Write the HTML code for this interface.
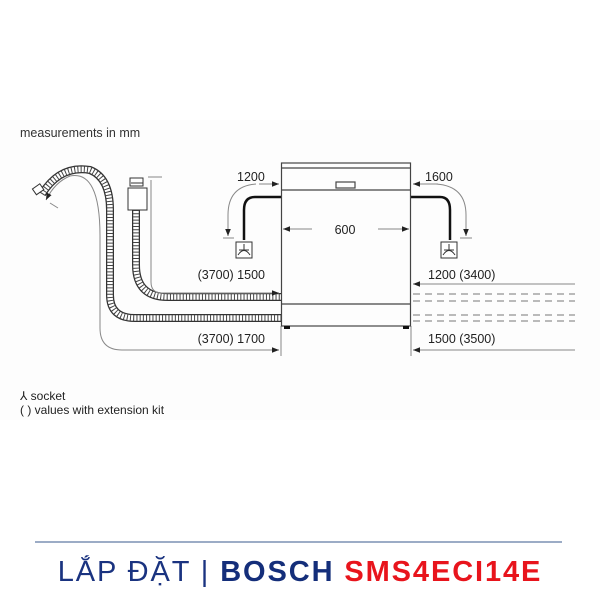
<!DOCTYPE html>
<html><head><meta charset="utf-8"><style>
html,body{margin:0;padding:0;background:#fff;}
svg{display:block}
</style></head><body>
<svg width="600" height="600" viewBox="0 0 600 600" xmlns="http://www.w3.org/2000/svg" font-family="Liberation Sans, Arial, sans-serif">
<defs>
<marker id="a" viewBox="0 0 10 10" refX="10" refY="5" markerWidth="7" markerHeight="7" orient="auto"><path d="M0,1 L10,5 L0,9z" fill="#222"/></marker>
</defs>
<rect x="0" y="120" width="600" height="300" fill="#fdfdfd"/>
<text x="20" y="137" font-size="12.5" fill="#333">measurements in mm</text>

<g fill="none">
<path id="h1" d="M136,210 L136,265 Q136,297 168,297 L281,297"/>
<path id="h2" d="M42,194 Q60,165 90,170 Q110,178 110,210 L110,295 Q110,318 135,318 L281,318"/>
</g>
<g fill="none" stroke="#333">
<use href="#h1" stroke-width="8"/><use href="#h2" stroke-width="8"/>
</g>
<g fill="none" stroke="#fff">
<use href="#h1" stroke-width="5.5"/><use href="#h2" stroke-width="5.5"/>
</g>
<g fill="none" stroke="#444" stroke-dasharray="1 2.2">
<use href="#h1" stroke-width="6"/><use href="#h2" stroke-width="6"/>
</g>
<rect x="34" y="186" width="9" height="7" fill="#fff" stroke="#333" transform="rotate(-35 38 190)"/>
<rect x="128" y="188" width="19" height="22" fill="#fff" stroke="#333"/>
<rect x="130" y="178" width="13" height="8" fill="#fff" stroke="#333"/>
<line x1="131" y1="183" x2="143" y2="183" stroke="#333"/>

<g fill="none" stroke="#888" stroke-width="1">
<path d="M151,180 L151,282 Q151,293 162,293 L279,293" marker-end="url(#a)"/>
<line x1="148" y1="177" x2="162" y2="177"/>
<path d="M100,236 L100,328 Q100,350 122,350 L279,350" marker-end="url(#a)"/>
<path d="M100,236 Q100,170 70,176 Q55,182 46,200" marker-end="url(#a)"/>
<line x1="50" y1="203" x2="58" y2="208"/>
<path d="M256,184 Q228,186 228,215 L228,236" marker-end="url(#a)"/>
<line x1="259" y1="184" x2="279" y2="184" marker-end="url(#a)"/>
<line x1="223" y1="238" x2="234" y2="238"/>
<line x1="438" y1="184" x2="413" y2="184" marker-end="url(#a)"/>
<path d="M436,184 Q466,186 466,215 L466,236" marker-end="url(#a)"/>
<line x1="460" y1="238" x2="472" y2="238"/>
<line x1="281" y1="326" x2="281" y2="356"/>
<line x1="411" y1="326" x2="411" y2="356"/>
<line x1="575" y1="284" x2="413" y2="284" marker-end="url(#a)"/>
<line x1="575" y1="350" x2="413" y2="350" marker-end="url(#a)"/>
<line x1="312" y1="229" x2="283" y2="229" marker-end="url(#a)"/>
<line x1="378" y1="229" x2="409" y2="229" marker-end="url(#a)"/>
</g>
<g stroke="#777" stroke-dasharray="7 5">
<line x1="413" y1="294" x2="575" y2="294"/><line x1="413" y1="301" x2="575" y2="301"/>
<line x1="413" y1="315" x2="575" y2="315"/><line x1="413" y1="321" x2="575" y2="321"/>
</g>

<path d="M281,197 L255,197 Q244,197 244,210 L244,240" fill="none" stroke="#111" stroke-width="2.5"/>
<path d="M411,197 L440,197 Q450,197 450,210 L450,240" fill="none" stroke="#111" stroke-width="2.5"/>
<g fill="#fff" stroke="#333">
<rect x="236" y="242" width="16" height="16"/>
<rect x="441" y="242" width="16" height="16"/>
</g>
<g fill="none" stroke="#333">
<path d="M244,244 L244,250 M238,255 Q244,246 250,255 M239,250 L249,250"/>
<path d="M449,244 L449,250 M443,255 Q449,246 455,255 M444,250 L454,250"/>
</g>

<g fill="none" stroke="#444" stroke-width="1.2">
<rect x="281.5" y="163" width="129" height="163"/>
<line x1="281" y1="168" x2="411" y2="168"/>
<line x1="281" y1="190" x2="411" y2="190"/>
<line x1="281" y1="304" x2="411" y2="304"/>
<rect x="336" y="182" width="19" height="6"/>
</g>
<rect x="284" y="326" width="6" height="3" fill="#111"/>
<rect x="403" y="326" width="6" height="3" fill="#111"/>

<g font-size="12.5" fill="#222">
<text x="237" y="181">1200</text>
<text x="425" y="181">1600</text>
<text x="345" y="234" text-anchor="middle">600</text>
<text x="265" y="279" text-anchor="end">(3700) 1500</text>
<text x="265" y="343" text-anchor="end">(3700) 1700</text>
<text x="428" y="279">1200 (3400)</text>
<text x="428" y="343">1500 (3500)</text>
<text x="20" y="400" font-size="12">⅄ socket</text>
<text x="20" y="414" font-size="12">( ) values with extension kit</text>
</g>

<line x1="35" y1="542" x2="562" y2="542" stroke="#3a5a8c" stroke-width="1"/>
<text x="300" y="581" text-anchor="middle" font-size="29" letter-spacing="1.9"><tspan fill="#1a3380">LẮP ĐẶT | </tspan><tspan fill="#142e7a" font-weight="bold">BOSCH </tspan><tspan fill="#e8141c" font-weight="bold">SMS4ECI14E</tspan></text>
</svg>
</body></html>
